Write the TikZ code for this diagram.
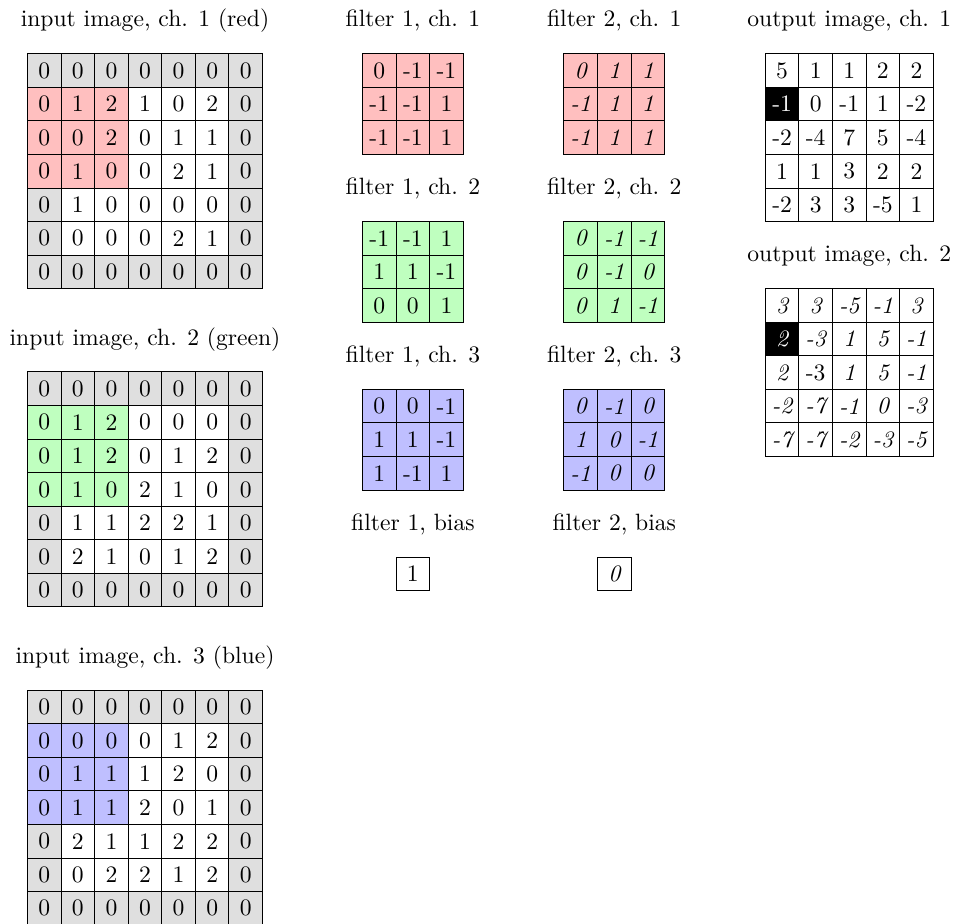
\documentclass[tikz,border=0pt]{standalone}
\usepackage{tikz}
\usetikzlibrary{positioning}
\tikzstyle{title} = [anchor=base]
\tikzstyle{val} = [inner sep=0pt]
\tikzstyle{gridline} = [line cap=rect]
\colorlet{padcol}{gray!25}

\begin{document}
\begin{tikzpicture}[x=0.5cm, y=0.5cm]
\useasboundingbox (0,0) rectangle (28.42,-27.52);

% input image, ch. 1
\begin{scope}[shift={(0.82,-1.6)}]
  \fill[padcol] (0,0) rectangle (7,-7);
  \fill[white] (1,-1) rectangle (6,-6);
  \fill[red!25] (0,-1) rectangle (3,-4);
  \foreach \i in {0,...,7} {
    \draw[gridline] (\i,0) -- (\i,-7);
    \draw[gridline] (0,-\i) -- (7,-\i);
  }
  \foreach \row [count=\r] in {{0,0,0,0,0,0,0},{0,1,2,1,0,2,0},{0,0,2,0,1,1,0},{0,1,0,0,2,1,0},{0,1,0,0,0,0,0},{0,0,0,0,2,1,0},{0,0,0,0,0,0,0}}
    \foreach \v [count=\c] in \row
      \node[val] (in1-\r-\c) at (\c-0.5,0.5-\r) {\v};
  \node[title] (in1-title) at (3.5,0.82) {input image, ch. 1 (red)};
\end{scope}

% input image, ch. 2
\begin{scope}[shift={(0.82,-11.08)}]
  \fill[padcol] (0,0) rectangle (7,-7);
  \fill[white] (1,-1) rectangle (6,-6);
  \fill[green!25] (0,-1) rectangle (3,-4);
  \foreach \i in {0,...,7} {
    \draw[gridline] (\i,0) -- (\i,-7);
    \draw[gridline] (0,-\i) -- (7,-\i);
  }
  \foreach \row [count=\r] in {{0,0,0,0,0,0,0},{0,1,2,0,0,0,0},{0,1,2,0,1,2,0},{0,1,0,2,1,0,0},{0,1,1,2,2,1,0},{0,2,1,0,1,2,0},{0,0,0,0,0,0,0}}
    \foreach \v [count=\c] in \row
      \node[val] (in2-\r-\c) at (\c-0.5,0.5-\r) {\v};
  \node[title] (in2-title) at (3.5,0.8) {input image, ch. 2 (green)};
\end{scope}

% input image, ch. 3
\begin{scope}[shift={(0.82,-20.56)}]
  \fill[padcol] (0,0) rectangle (7,-7);
  \fill[white] (1,-1) rectangle (6,-6);
  \fill[blue!25] (0,-1) rectangle (3,-4);
  \foreach \i in {0,...,7} {
    \draw[gridline] (\i,0) -- (\i,-7);
    \draw[gridline] (0,-\i) -- (7,-\i);
  }
  \foreach \row [count=\r] in {{0,0,0,0,0,0,0},{0,0,0,0,1,2,0},{0,1,1,1,2,0,0},{0,1,1,2,0,1,0},{0,2,1,1,2,2,0},{0,0,2,2,1,2,0},{0,0,0,0,0,0,0}}
    \foreach \v [count=\c] in \row
      \node[val] (in3-\r-\c) at (\c-0.5,0.5-\r) {\v};
  \node[title] (in3-title) at (3.5,0.8) {input image, ch. 3 (blue)};
\end{scope}

% filter 1
\begin{scope}[shift={(10.8,-1.6)}]
  \fill[red!25] (0,0) rectangle (3,-3);
  \foreach \i in {0,...,3} {
    \draw[gridline] (\i,0) -- (\i,-3);
    \draw[gridline] (0,-\i) -- (3,-\i);
  }
  \foreach \row [count=\r] in {{0,-1,-1},{-1,-1,1},{-1,-1,1}}
    \foreach \v [count=\c] in \row
      \node[val] (fa1-\r-\c) at (\c-0.5,0.5-\r) {\v};
  \node[title] (fa1-title) at (1.5,0.8) {filter 1, ch. 1};
\end{scope}
\begin{scope}[shift={(10.8,-6.6)}]
  \fill[green!25] (0,0) rectangle (3,-3);
  \foreach \i in {0,...,3} {
    \draw[gridline] (\i,0) -- (\i,-3);
    \draw[gridline] (0,-\i) -- (3,-\i);
  }
  \foreach \row [count=\r] in {{-1,-1,1},{1,1,-1},{0,0,1}}
    \foreach \v [count=\c] in \row
      \node[val] (fa2-\r-\c) at (\c-0.5,0.5-\r) {\v};
  \node[title] (fa2-title) at (1.5,0.8) {filter 1, ch. 2};
\end{scope}
\begin{scope}[shift={(10.8,-11.6)}]
  \fill[blue!25] (0,0) rectangle (3,-3);
  \foreach \i in {0,...,3} {
    \draw[gridline] (\i,0) -- (\i,-3);
    \draw[gridline] (0,-\i) -- (3,-\i);
  }
  \foreach \row [count=\r] in {{0,0,-1},{1,1,-1},{1,-1,1}}
    \foreach \v [count=\c] in \row
      \node[val] (fa3-\r-\c) at (\c-0.5,0.5-\r) {\v};
  \node[title] (fa3-title) at (1.5,0.8) {filter 1, ch. 3};
\end{scope}
\begin{scope}[shift={(10.8,-16.6)}]
  \draw (1,0) rectangle (2,-1);
  \node[val] (fa-bias) at (1.5,-0.5) {1};
  \node[title] (fab-title) at (1.5,0.8) {filter 1, bias};
\end{scope}

% filter 2
\begin{scope}[shift={(16.8,-1.6)}, font=\itshape]
  \fill[red!25] (0,0) rectangle (3,-3);
  \foreach \i in {0,...,3} {
    \draw[gridline] (\i,0) -- (\i,-3);
    \draw[gridline] (0,-\i) -- (3,-\i);
  }
  \foreach \row [count=\r] in {{0,1,1},{-1,1,1},{-1,1,1}}
    \foreach \v [count=\c] in \row
      \node[val] (fb1-\r-\c) at (\c-0.5,0.5-\r) {\v};
  \node[title, font=\upshape] (fb1-title) at (1.5,0.8) {filter 2, ch. 1};
\end{scope}
\begin{scope}[shift={(16.8,-6.6)}, font=\itshape]
  \fill[green!25] (0,0) rectangle (3,-3);
  \foreach \i in {0,...,3} {
    \draw[gridline] (\i,0) -- (\i,-3);
    \draw[gridline] (0,-\i) -- (3,-\i);
  }
  \foreach \row [count=\r] in {{0,-1,-1},{0,-1,0},{0,1,-1}}
    \foreach \v [count=\c] in \row
      \node[val] (fb2-\r-\c) at (\c-0.5,0.5-\r) {\v};
  \node[title, font=\upshape] (fb2-title) at (1.5,0.8) {filter 2, ch. 2};
\end{scope}
\begin{scope}[shift={(16.8,-11.6)}, font=\itshape]
  \fill[blue!25] (0,0) rectangle (3,-3);
  \foreach \i in {0,...,3} {
    \draw[gridline] (\i,0) -- (\i,-3);
    \draw[gridline] (0,-\i) -- (3,-\i);
  }
  \foreach \row [count=\r] in {{0,-1,0},{1,0,-1},{-1,0,0}}
    \foreach \v [count=\c] in \row
      \node[val] (fb3-\r-\c) at (\c-0.5,0.5-\r) {\v};
  \node[title, font=\upshape] (fb3-title) at (1.5,0.8) {filter 2, ch. 3};
\end{scope}
\begin{scope}[shift={(16.8,-16.6)}]
  \draw (1,0) rectangle (2,-1);
  \node[val, font=\itshape] (fb-bias) at (1.5,-0.5) {0};
  \node[title] (fbb-title) at (1.5,0.8) {filter 2, bias};
\end{scope}

% output image
\begin{scope}[shift={(22.8,-1.6)}]
  \fill[black] (0,-1) rectangle (1,-2);
  \foreach \i in {0,...,5} {
    \draw[gridline] (\i,0) -- (\i,-5);
    \draw[gridline] (0,-\i) -- (5,-\i);
  }
  \foreach \row [count=\r] in {{5,1,1,2,2},{\textcolor{white}{-1},0,-1,1,-2},{-2,-4,7,5,-4},{1,1,3,2,2},{-2,3,3,-5,1}}
    \foreach \v [count=\c] in \row
      \node[val] (out1-\r-\c) at (\c-0.5,0.5-\r) {\v};
  \node[title] (out1-title) at (2.5,0.8) {output image, ch. 1};
\end{scope}
\begin{scope}[shift={(22.8,-8.6)}, font=\itshape]
  \fill[black] (0,-1) rectangle (1,-2);
  \foreach \i in {0,...,5} {
    \draw[gridline] (\i,0) -- (\i,-5);
    \draw[gridline] (0,-\i) -- (5,-\i);
  }
  \foreach \row [count=\r] in {{3,3,-5,-1,3},{\textcolor{white}{2},-3,1,5,-1},{2,\upshape -3,1,5,-1},{-2,-7,-1,0,-3},{-7,-7,-2,-3,-5}}
    \foreach \v [count=\c] in \row
      \node[val] (out2-\r-\c) at (\c-0.5,0.5-\r) {\v};
  \node[title, font=\upshape] (out2-title) at (2.5,0.82) {output image, ch. 2};
\end{scope}
\end{tikzpicture}
\end{document}
